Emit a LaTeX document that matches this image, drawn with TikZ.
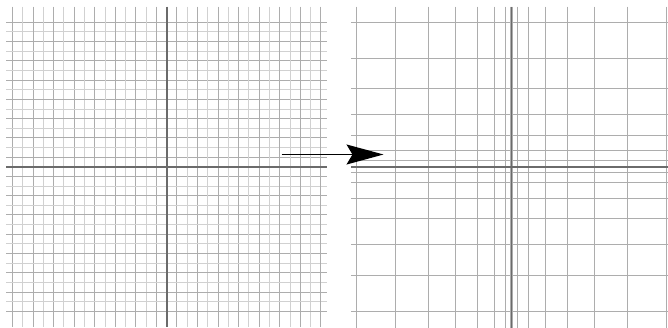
\documentclass[tikz,border=0pt]{standalone}
\usetikzlibrary{arrows.meta}
\begin{document}
\begin{tikzpicture}[x=1pt,y=-1pt,
  minorline/.style={draw=black!18,line width=0.9pt},
  majorline/.style={draw=black!32,line width=1pt},
  axisline/.style={draw=black!58,line width=1.8pt},
  maparrow/.style={draw=black,line width=1.2pt,-{Stealth[length=37pt,width=20pt,inset=6pt]}}]
\useasboundingbox (0,0) rectangle (668,328);
\fill[white] (0,0) rectangle (668,328);
% ---- left grid (uniform) ----
\def\lcx{166.7}\def\lcy{166.8}
\foreach \i in {-15,...,15}{
  \pgfmathsetmacro{\xx}{\lcx+10.28*\i}
  \pgfmathsetmacro{\yy}{\lcy+9.64*\i}
  \pgfmathtruncatemacro{\odd}{mod(abs(\i),2)}
  \ifnum\odd=1
    \draw[majorline] (\xx,6.7) -- (\xx,327);
    \draw[majorline] (6,\yy) -- (327,\yy);
  \else
    \draw[minorline] (\xx,6.7) -- (\xx,327);
    \draw[minorline] (6,\yy) -- (327,\yy);
  \fi
}
\draw[axisline] (\lcx,6.7) -- (\lcx,327);
\draw[axisline] (6,\lcy) -- (327,\lcy);
% ---- right grid (quadratic map) ----
\def\rcx{511.5}\def\rcy{166.7}
\foreach \k in {1,3,...,15}{
  \pgfmathsetmacro{\dx}{0.689*\k*\k}
  \pgfmathsetmacro{\dy}{0.643*\k*\k}
  \draw[majorline] (\rcx+\dx,6.7) -- (\rcx+\dx,328);
  \draw[majorline] (\rcx-\dx,6.7) -- (\rcx-\dx,328);
  \draw[majorline] (351,\rcy+\dy) -- (668,\rcy+\dy);
  \draw[majorline] (351,\rcy-\dy) -- (668,\rcy-\dy);
}
\draw[axisline] (\rcx,6.7) -- (\rcx,328);
\draw[axisline] (351,\rcy) -- (668,\rcy);
% ---- arrow ----
\coordinate (start) at (281.7,154.5);
\coordinate (tip) at (383.5,154.5);
\draw[maparrow] (start) -- (tip);
\end{tikzpicture}
\end{document}
